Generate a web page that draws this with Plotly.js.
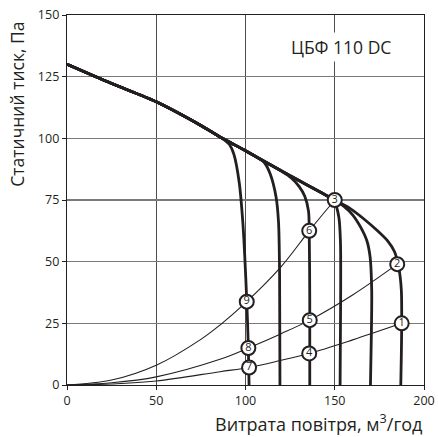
<!DOCTYPE html>
<html><head><meta charset="utf-8">
<script src="https://cdn.plot.ly/plotly-3.0.1.min.js"></script>
<style>html,body{margin:0;padding:0;background:#fff}</style>
</head><body><div id="chart" style="width:438px;height:437px"></div>
<script>
// Shared envelope (max speed) part
const envX = [0, 25, 50, 75, 87];
const envY = [130, 122.2, 114.8, 105.2, 100];

// Fan curves (x: flow m3/h, y: pressure Pa)
const curve9X = [...envX, 91, 93.5, 96.5, 98.5, 99.6, 100.7, 101.6, 102];
const curve9Y = [...envY, 97.5, 93.5, 82, 66, 52, 34, 15, 0];

const curveBX = [...envX, 100, 106, 110.5, 113.7, 117.1, 118.5, 119.1, 119.3];
const curveBY = [...envY, 95, 92.5, 90.2, 85.8, 76.3, 66, 45, 0];

const curve6X = [...envX, 100, 112, 121, 125.5, 130, 133.2, 135.3, 135.7, 136, 136];
const curve6Y = [...envY, 95, 90, 86.3, 84, 80.5, 76.5, 70.5, 62.5, 35, 0];

const curve3aX = [...envX, 100, 125, 140, 146, 150, 152.3, 153.2, 153.3, 153];
const curve3aY = [...envY, 95, 84.8, 79, 76.5, 74, 68, 58, 35, 0];

const curve2bX = [...envX, 100, 125, 150, 155, 160, 164.5, 168, 169.8, 170.7, 170.5, 170];
const curve2bY = [...envY, 95, 84.8, 75, 72.5, 69, 64, 58.5, 52, 38.5, 20, 0];

const curve1X = [...envX, 100, 125, 150, 158.5, 166, 173.5, 179.5, 183.5, 186, 187.3, 187.5, 187.3, 187];
const curve1Y = [...envY, 95, 84.8, 75, 71.6, 67.5, 62.8, 58.5, 54, 47, 38.5, 25, 12, 0];

// System (duct) curves
const sysAX = [0, 25, 50, 75, 85.7, 100.7, 120, 135.7, 150];
const sysAY = [0, 2, 8, 18.5, 24.3, 33.8, 48, 62.5, 75];
const sysBX = [0, 25, 50, 85.7, 101.6, 120, 136, 160, 185];
const sysBY = [0, 0.9, 3.3, 10.4, 15, 20.8, 26.3, 36.5, 49];
const sysCX = [0, 25, 50, 85.7, 102, 120, 135.7, 160, 187.5];
const sysCY = [0, 0.4, 1.6, 5.4, 7.1, 10, 12.8, 18.3, 25];

// Operating points
const ptLabels = ['1', '2', '3', '4', '5', '6', '7', '8', '9'];
const ptX = [187.5, 185, 150, 135.7, 136, 135.7, 102, 101.6, 100.7];
const ptY = [25, 49, 75, 12.8, 26.3, 62.5, 7.1, 15, 33.8];

const thick = {color: '#231f20', width: 2.8, shape: 'spline', smoothing: 0.8};
const thin = {color: '#231f20', width: 1.1, shape: 'spline', smoothing: 1};

const traces = [];
[[sysAX, sysAY], [sysBX, sysBY], [sysCX, sysCY]].forEach(([x, y]) =>
  traces.push({x, y, mode: 'lines', line: thin, hoverinfo: 'skip', showlegend: false}));
[[curve9X, curve9Y], [curveBX, curveBY], [curve6X, curve6Y], [curve3aX, curve3aY], [curve2bX, curve2bY], [curve1X, curve1Y]]
  .forEach(([x, y]) => traces.push({x, y, mode: 'lines', line: thick, hoverinfo: 'skip', showlegend: false}));
traces.push({
  x: ptX, y: ptY, text: ptLabels, mode: 'markers+text', textposition: 'middle center',
  textfont: {family: 'Open Sans, sans-serif', size: 11, color: '#231f20'},
  marker: {size: 14, color: 'white', line: {color: '#231f20', width: 2}},
  cliponaxis: false, showlegend: false
});

const layout = {
  width: 438, height: 437,
  margin: {l: 67, r: 14, t: 15, b: 52},
  paper_bgcolor: 'white', plot_bgcolor: 'white',
  showlegend: false,
  font: {family: 'Open Sans, sans-serif', color: '#231f20'},
  xaxis: {
    range: [0, 200], tickvals: [0, 50, 100, 150, 200], ticks: 'outside', ticklen: 4, tickcolor: '#231f20',
    showgrid: true, gridcolor: '#4d4d4d', gridwidth: 1.2, zeroline: false,
    showline: true, linecolor: '#231f20', linewidth: 1.2, mirror: true,
    tickfont: {size: 12.5, color: '#231f20'}
  },
  yaxis: {
    range: [0, 150], tickvals: [0, 25, 50, 75, 100, 125, 150], ticks: 'outside', ticklen: 4, tickcolor: '#231f20',
    showgrid: true, gridcolor: '#7a7a7a', gridwidth: 1.2, zeroline: false,
    showline: true, linecolor: '#231f20', linewidth: 1.2, mirror: true,
    tickfont: {size: 12.5, color: '#231f20'}
  },
  annotations: [
    {text: 'ЦБФ 110 DC', xref: 'x', yref: 'y', x: 153.5, y: 137, xanchor: 'center', yanchor: 'middle', showarrow: false,
     font: {size: 17.5, color: '#231f20'}, bgcolor: 'white', borderpad: 2},
    {text: 'Витрата повітря, м<sup>3</sup>/год', xref: 'paper', yref: 'paper', x: 1, y: -0.062,
     xanchor: 'right', yanchor: 'top', showarrow: false, font: {size: 18, color: '#231f20'}},
    {text: 'Статичний тиск, Па', xref: 'paper', yref: 'paper', x: -0.14, y: 0.986, textangle: -90,
     xanchor: 'center', yanchor: 'top', showarrow: false, font: {size: 17.5, color: '#231f20'}}
  ]
};
Plotly.newPlot('chart', traces, layout, {staticPlot: true});
</script></body></html>
